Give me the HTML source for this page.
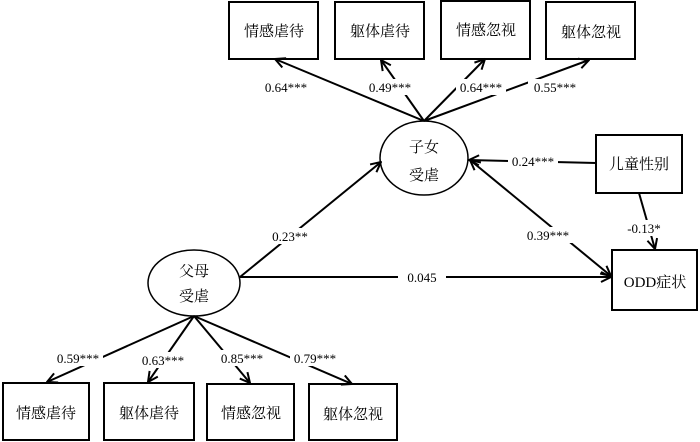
<!DOCTYPE html>
<html><head><meta charset="utf-8"><style>
html,body{margin:0;padding:0;background:#fff;width:700px;height:442px;overflow:hidden}
svg text{font-family:"Liberation Serif","Noto Serif CJK SC","Noto Sans CJK SC",serif;fill:#000}
.b{font-size:15px}
.l{font-size:13px}
</style></head><body>
<svg width="700" height="442" viewBox="0 0 700 442" xmlns="http://www.w3.org/2000/svg">
<defs>
<marker id="a" viewBox="0 0 12 12" refX="11" refY="6" markerWidth="12" markerHeight="12" markerUnits="userSpaceOnUse" orient="auto-start-reverse">
<polyline points="1,1 11,6 1,11" fill="none" stroke="#000" stroke-width="2"/>
</marker>
</defs>
<g stroke="#000" stroke-width="2" fill="none">
<!-- top boxes -->
<rect x="229" y="2" width="89" height="57"/>
<rect x="335" y="2" width="89" height="57"/>
<rect x="441" y="1" width="89" height="58"/>
<rect x="546" y="2" width="89" height="57"/>
<!-- bottom boxes -->
<rect x="3" y="383" width="86" height="57"/>
<rect x="104" y="383" width="90" height="57"/>
<rect x="207" y="384" width="87" height="56"/>
<rect x="309" y="384" width="88" height="56"/>
<!-- gender, ODD -->
<rect x="596" y="135" width="86" height="58"/>
<rect x="612" y="250" width="85" height="60"/>
<!-- ellipses -->
<ellipse cx="424" cy="158" rx="44" ry="37" stroke-width="1.5"/>
<ellipse cx="194" cy="283" rx="46" ry="33" stroke-width="1.5"/>
<!-- top lines -->
<line x1="424" y1="121" x2="275" y2="59" marker-end="url(#a)"/>
<line x1="424" y1="121" x2="381" y2="60" marker-end="url(#a)"/>
<line x1="424" y1="121" x2="485" y2="59" marker-end="url(#a)"/>
<line x1="424" y1="121" x2="589" y2="60" marker-end="url(#a)"/>
<!-- bottom lines -->
<line x1="194" y1="316" x2="47" y2="382" marker-end="url(#a)"/>
<line x1="194" y1="316" x2="148" y2="382" marker-end="url(#a)"/>
<line x1="194" y1="316" x2="250" y2="383" marker-end="url(#a)"/>
<line x1="194" y1="316" x2="352" y2="384" marker-end="url(#a)"/>
<!-- structural -->
<line x1="240" y1="277" x2="381" y2="162" marker-end="url(#a)"/>
<line x1="240" y1="277" x2="611" y2="277" marker-end="url(#a)"/>
<line x1="470" y1="160" x2="611" y2="276" marker-start="url(#a)" marker-end="url(#a)"/>
<line x1="596" y1="163" x2="469" y2="160" marker-end="url(#a)"/>
<line x1="639" y1="193" x2="655" y2="249" marker-end="url(#a)"/>
</g>
<!-- label backgrounds -->
<g fill="#fff">
<rect x="260" y="79" width="52" height="16"/>
<rect x="366" y="79" width="48" height="16"/>
<rect x="456" y="79" width="50" height="16"/>
<rect x="528" y="79" width="54" height="16"/>
<rect x="508" y="153" width="50" height="16"/>
<rect x="622" y="220" width="44" height="16"/>
<rect x="266" y="228" width="48" height="16"/>
<rect x="522" y="227" width="52" height="16"/>
<rect x="398" y="269" width="48" height="16"/>
<rect x="53" y="350" width="50" height="16"/>
<rect x="138" y="352" width="50" height="16"/>
<rect x="217" y="350" width="50" height="16"/>
<rect x="290" y="350" width="50" height="16"/>
</g>
<g class="b" text-anchor="middle">
<text x="274" y="36">情感虐待</text>
<text x="380" y="36">躯体虐待</text>
<text x="486" y="35">情感忽视</text>
<text x="591" y="37">躯体忽视</text>
<text x="46" y="418">情感虐待</text>
<text x="149" y="418">躯体虐待</text>
<text x="251" y="418">情感忽视</text>
<text x="353" y="419">躯体忽视</text>
<text x="639" y="169">儿童性别</text>
<text x="655" y="287">ODD症状</text>
<text x="424" y="152">子女</text>
<text x="424" y="180">受虐</text>
<text x="194" y="276">父母</text>
<text x="194" y="301">受虐</text>
</g>
<g class="l" text-anchor="middle">
<text x="286" y="92">0.64***</text>
<text x="390" y="92">0.49***</text>
<text x="481" y="92">0.64***</text>
<text x="555" y="92">0.55***</text>
<text x="533" y="166">0.24***</text>
<text x="644" y="233">-0.13*</text>
<text x="290" y="241">0.23**</text>
<text x="548" y="240">0.39***</text>
<text x="422" y="282">0.045</text>
<text x="78" y="363">0.59***</text>
<text x="163" y="365">0.63***</text>
<text x="242" y="363">0.85***</text>
<text x="315" y="363">0.79***</text>
</g>
</svg>
</body></html>
